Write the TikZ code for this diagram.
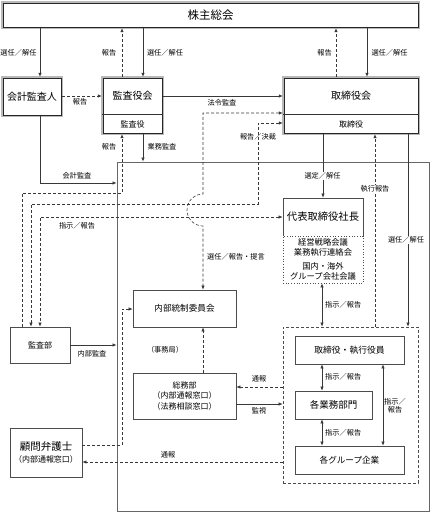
\documentclass[tikz,border=0pt]{standalone}
\usepackage{fontspec}
\setmainfont{Noto Sans CJK JP}
\usetikzlibrary{arrows.meta,calc}
\newcommand\myframe[1]{%
  \draw[gray!55,line width=2pt] (#1.north west) rectangle (#1.south east);
  \draw[black!85,line width=0.5pt] ([shift={(1pt,-1pt)}]#1.north west) rectangle ([shift={(-1pt,1pt)}]#1.south east);}
\begin{document}
\begin{tikzpicture}[x=1pt,y=-1pt,
  line/.style={draw=black!78, line width=0.6pt},
  tip/.tip={Latex[length=4pt,width=3.4pt]},
  arr/.style={line, -tip},
  darr/.style={arr, dash pattern=on 3pt off 2pt},
  biarr/.style={line, tip-tip},
  dbiarr/.style={biarr, dash pattern=on 3pt off 2pt},
  box/.style={draw=black!70, line width=0.7pt, inner sep=0pt, align=center, fill=white},
  ebox/.style={inner sep=0pt, align=center, fill=white},
  txt/.style={inner sep=0pt, align=center},
  lbl/.style={font=\fontsize{7.2}{8.5}\selectfont, inner sep=1pt, align=center},
  wlbl/.style={lbl, fill=white}
]
\useasboundingbox (0,0) rectangle (432,512);

% big frame
\node[draw=black!60, line width=0.9pt, minimum width=312, minimum height=349, inner sep=0pt] (big) at (273,336.5) {};

% top boxes
\node[ebox, minimum width=417, minimum height=26, font=\fontsize{11.5}{12}\selectfont] (sh) at (210.5,15) {株主総会};
\node[ebox, minimum width=60, minimum height=39, font=\fontsize{10}{12}\selectfont] (kaikei) at (32,96.5) {会計監査人};
\node[ebox, minimum width=61, minimum height=57] (kansa) at (132.5,105.5) {};
\node[txt, font=\fontsize{10}{12}\selectfont] (kansaU) at (132.5,95.5) {監査役会};
\node[txt, font=\fontsize{8}{10}\selectfont] (kansaL) at (132.5,124) {監査役};
\node[ebox, minimum width=136, minimum height=57] (tori) at (351,105.5) {};
\node[txt, font=\fontsize{10}{12}\selectfont] (toriU) at (351,95.5) {取締役会};
\node[txt, font=\fontsize{8}{10}\selectfont] (toriL) at (351,124) {取締役};
\myframe{sh}
\myframe{kaikei}
\myframe{kansa}
\myframe{tori}
\draw[black!80, line width=0.6pt] (kansa.west |- 0,114) -- (kansa.east |- 0,114);
\draw[black!80, line width=0.6pt] (tori.west |- 0,114) -- (tori.east |- 0,114);

% other boxes
\node[box, minimum width=80, minimum height=38, font=\fontsize{10.3}{12}\selectfont] (daihyo) at (323,217) {代表取締役社長};
\node[box, draw=black!70, dotted, line width=0.8pt, minimum width=80, minimum height=47, font=\fontsize{8.3}{10}\selectfont] (kaigi) at (323,259.5) {経営戦略会議\\業務執行連絡会\\[4pt]国内・海外\\グループ会社会議};
\node[box, minimum width=103, minimum height=37, font=\fontsize{8.6}{10}\selectfont] (naibu) at (184.5,308.5) {内部統制委員会};
\node[box, minimum width=103, minimum height=46, font=\fontsize{8}{10.8}\selectfont] (somu) at (184.5,396) {総務部\\（内部通報窓口）\\（法務相談窓口）};
\node[box, minimum width=60, minimum height=36, font=\fontsize{8}{10}\selectfont] (kansabu) at (40,345) {監査部};
\node[box, minimum width=72, minimum height=49] (komon) at (46,452.5) {{\fontsize{10.5}{13}\selectfont 顧問弁護士}\\{\fontsize{8}{10}\selectfont （内部通報窓口）}};
\node[box, fill=none, dash pattern=on 3pt off 2pt, minimum width=135, minimum height=156] (group) at (350.5,405) {};
\node[box, minimum width=109, minimum height=28, font=\fontsize{8.8}{10}\selectfont] (torishikko) at (349.5,350) {取締役・執行役員};
\node[box, minimum width=77, minimum height=28, font=\fontsize{9.5}{10}\selectfont] (gyomu) at (333.5,405) {各業務部門};
\node[box, minimum width=109, minimum height=28, font=\fontsize{8.6}{10}\selectfont] (gkigyo) at (349.5,460) {各グループ企業};

% connectors: top
\draw[arr] (40,0 |- sh.south) -- (40,0 |- kaikei.north);
\node[lbl] (l1) at (18.5,53) {選任／解任};
\draw[darr] (122,0 |- kansa.north) -- (122,0 |- sh.south);
\node[lbl] (l2) at (109,53) {報告};
\draw[arr] (143,0 |- sh.south) -- (143,0 |- kansa.north);
\node[lbl] (l3) at (165,53) {選任／解任};
\draw[darr] (336,0 |- tori.north) -- (336,0 |- sh.south);
\node[lbl] (l4) at (324.5,53) {報告};
\draw[arr] (367,0 |- sh.south) -- (367,0 |- tori.north);
\node[lbl] (l5) at (389.5,53) {選任／解任};

\draw[darr] (kaikei.east |- 0,96) -- (kansa.west |- 0,96);
\node[lbl] (l6) at (80,102) {報告};
\draw[arr] (kansa.east |- 0,96) -- (tori.west |- 0,96);
\node[lbl] (l7) at (222,103) {法令監査};

% report/decision lines
\draw[dbiarr] (tori.west |- 0,113) -- (203,113) -- (203,194) arc[start angle=90, end angle=270, radius=16pt] -- (203,0 |- naibu.north);
\draw[dbiarr] (tori.west |- 0,123) -- (258,123) -- (258,204) -- (31,204) -- (31,0 |- kansabu.north);
\node[lbl] (l8) at (258,137) {報告／決裁};

\draw[darr] (22,0 |- kansabu.north) -- (22,193) -- (122,193) -- (122,0 |- kansa.south);
\node[lbl] (l9) at (109,147) {報告};
\draw[arr] (143,0 |- kansa.south) -- (143,0 |- big.north);
\node[lbl] (l10) at (162,147) {業務監査};
\draw[arr] (40,0 |- kaikei.south) -- (40,183) -- (big.west |- 0,183);
\node[lbl] (l11) at (77,176) {会計監査};
\draw[dbiarr] (daihyo.west |- 0,217) -- (40,217) -- (40,0 |- kansabu.north);
\node[lbl] (l12) at (77,226) {指示／報告};
\node[lbl] (l13) at (236,257) {選任／報告・提言};

% from board
\draw[arr] (323,0 |- tori.south) -- (daihyo.north);
\node[wlbl] (l14) at (322.5,176) {選定／解任};
\draw[darr] (375,0 |- group.north) -- (375,0 |- tori.south);
\node[wlbl] (l15) at (375,189) {執行報告};
\draw[arr] (408,0 |- tori.south) -- (408,0 |- group.north);
\node[wlbl] (l16) at (406,240) {選任／解任};
\draw[biarr] (322,0 |- kaigi.south) -- (322,0 |- group.north);
\node[lbl, anchor=west] (l17) at (324,305) {指示／報告};

% lower left
\draw[darr] (komon.east |- 0,445) -- (122,445) -- (122,309) -- (naibu.west |- 0,309);
\draw[arr] (kansabu.east |- 0,345) -- (big.west |- 0,345);
\node[lbl] (l18) at (92,354) {内部監査};
\draw[darr] (203,0 |- somu.north) -- (203,0 |- naibu.south);
\node[lbl] (l19) at (165,350) {（事務局）};
\draw[darr] (group.west |- 0,387) -- (somu.east |- 0,387);
\node[lbl] (l20) at (259,379) {通報};
\draw[arr] (somu.east |- 0,404) -- (group.west |- 0,404);
\node[lbl] (l21) at (259,411) {監視};
\draw[darr] (group.west |- 0,462) -- (komon.east |- 0,462);
\node[lbl] (l22) at (168,455) {通報};

% inside group
\draw[biarr] (322,0 |- torishikko.south) -- (322,0 |- gyomu.north);
\node[lbl, anchor=west] (l23) at (324,377) {指示／報告};
\draw[biarr] (322,0 |- gyomu.south) -- (322,0 |- gkigyo.north);
\node[lbl, anchor=west] (l24) at (324,433) {指示／報告};
\draw[biarr] (383,0 |- torishikko.south) -- (383,0 |- gkigyo.north);
\node[lbl] (l25) at (395,406) {指示／\\報告};
\end{tikzpicture}
\end{document}
